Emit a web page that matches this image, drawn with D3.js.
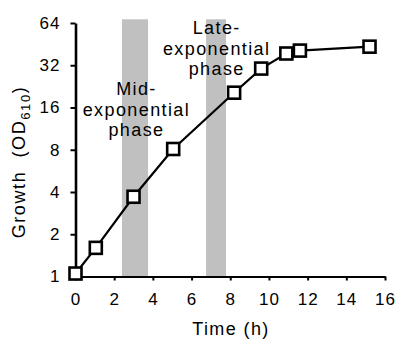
<!DOCTYPE html>
<html>
<head>
<meta charset="utf-8">
<script src="https://cdn.jsdelivr.net/npm/d3@7"></script>
<style>
  body { margin: 0; background: #fff; }
  text { font-family: "Liberation Sans", Arial, sans-serif; fill: #000; }
</style>
</head>
<body>
<div id="chart"></div>
<script>
// growth curve data
var timeH = [0, 1.05, 3.0, 5.05, 8.2, 9.6, 10.9, 11.6, 15.2];
var growth = [1.05, 1.6, 3.7, 8.1, 20.4, 30.3, 38.8, 40.7, 43.4];

var xTicks = [0, 2, 4, 6, 8, 10, 12, 14, 16];
var yTicks = [1, 2, 4, 8, 16, 32, 64];

// shaded sampling windows (hours)
var bandStart = [2.4, 6.75];
var bandEnd = [3.75, 7.78];
var bandTop = 68;

var phaseLabels = [
    {lines: ["Mid-", "exponential", "phase"], t: 3.15, y: 95},
    {lines: ["Late-", "exponential", "phase"], t: 7.3, y: 34}
];

const W = 397, H = 340;

var svg = d3.select("#chart").append("svg")
    .attr("width", W)
    .attr("height", H);

var xScale = d3.scaleLinear().domain([0, 16]).range([75.5, 385]);
var yScale = d3.scaleLog().base(2).domain([1, 64]).range([276.5, 23]);

// shaded bands
svg.append("g").selectAll("rect")
    .data(bandStart)
    .enter().append("rect")
    .attr("x", (d, i) => xScale(d))
    .attr("width", (d, i) => xScale(bandEnd[i]) - xScale(d))
    .attr("y", yScale(bandTop))
    .attr("height", yScale(1) - yScale(bandTop))
    .attr("fill", "#c0c0c0");

// phase annotations
phaseLabels.forEach(p => {
    var t = svg.append("text")
        .attr("text-anchor", "middle")
        .style("font-size", "18px")
        .style("letter-spacing", "1.4px");
    p.lines.forEach((l, i) => {
        t.append("tspan")
            .attr("x", xScale(p.t))
            .attr("y", p.y + i * 20.5)
            .text(l);
    });
});

// x axis
var xAxis = svg.append("g")
    .attr("transform", "translate(0," + yScale(1) + ")")
    .call(d3.axisBottom(xScale).tickValues(xTicks).tickSize(4).tickSizeOuter(0).tickPadding(12));
xAxis.select(".domain").attr("stroke", "#000").attr("stroke-width", 2.2);
xAxis.selectAll(".tick line").attr("stroke", "#000").attr("stroke-width", 2);
xAxis.selectAll("text")
    .style("font-size", "17px")
    .style("letter-spacing", "1px")
    .attr("font-family", null);

// y axis
var yAxis = svg.append("g")
    .attr("transform", "translate(" + xScale(0) + ",0)")
    .call(d3.axisLeft(yScale).tickValues(yTicks).tickFormat(d3.format("d")).tickSize(5).tickSizeOuter(0).tickPadding(10));
yAxis.select(".domain").attr("stroke", "#000").attr("stroke-width", 2.6);
yAxis.selectAll(".tick line").attr("stroke", "#000").attr("stroke-width", 2);
yAxis.selectAll("text")
    .style("font-size", "17px")
    .style("letter-spacing", "1px")
    .attr("font-family", null);

// line
var line = d3.line()
    .x((d, i) => xScale(timeH[i]))
    .y(d => yScale(d));

svg.append("path")
    .datum(growth)
    .attr("fill", "none")
    .attr("stroke", "#000")
    .attr("stroke-width", 2.2)
    .attr("d", line);

// square markers
var sz = 12;
svg.append("g").selectAll("rect")
    .data(growth)
    .enter().append("rect")
    .attr("x", (d, i) => xScale(timeH[i]) - sz / 2)
    .attr("y", d => yScale(d) - sz / 2)
    .attr("width", sz)
    .attr("height", sz)
    .attr("fill", "#fff")
    .attr("stroke", "#000")
    .attr("stroke-width", 2.6);

// axis titles
svg.append("text")
    .attr("x", 231)
    .attr("y", 335)
    .attr("text-anchor", "middle")
    .style("font-size", "18px")
    .style("letter-spacing", "1.4px")
    .text("Time (h)");

var yl = svg.append("text")
    .attr("transform", "translate(25,162) rotate(-90)")
    .attr("text-anchor", "middle")
    .style("font-size", "18px")
    .style("letter-spacing", "1.6px")
    .style("white-space", "pre");
yl.append("tspan").text("Growth  (OD");
yl.append("tspan").attr("dy", 5).style("font-size", "13px").text("610");
yl.append("tspan").attr("dy", -5).text(")");
</script>
</body>
</html>
